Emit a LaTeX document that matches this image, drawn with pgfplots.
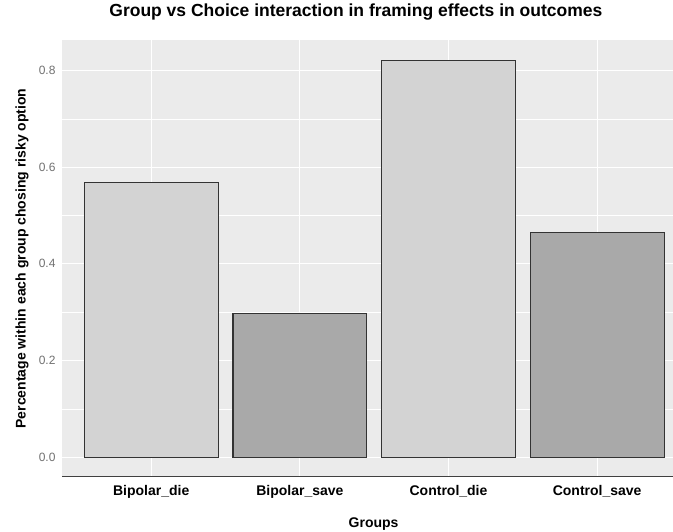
\documentclass[border=0pt]{standalone}
\usepackage{pgfplots}
\pgfplotsset{compat=1.18}
\usepackage{fontspec}
\setmainfont{Liberation Sans}
\definecolor{panel}{HTML}{EBEBEB}
\definecolor{dieclr}{HTML}{D3D3D3}
\definecolor{saveclr}{HTML}{A9A9A9}
\definecolor{ticklab}{HTML}{707070}
\begin{document}
\begin{tikzpicture}
\begin{axis}[
  width=611pt, height=437pt, scale only axis,
  xmin=-0.6, xmax=3.51,
  ymin=-0.041, ymax=0.863,
  axis background/.style={fill=panel},
  axis line style={draw=none},
  major tick length=0pt, minor tick length=0pt,
  xtick={0,1,2,3},
  xticklabels={Bipolar\_die,Bipolar\_save,Control\_die,Control\_save},
  xticklabel style={font=\fontsize{14}{16}\selectfont\bfseries, anchor=base, yshift=-19pt},
  ytick={0,0.2,0.4,0.6,0.8},
  minor ytick={0.1,0.3,0.5,0.7},
  yticklabels={0.0,0.2,0.4,0.6,0.8},
  yticklabel style={font=\fontsize{12}{14}\selectfont, text=ticklab, xshift=-3pt},
  grid=both,
  major grid style={white, line width=1.2pt},
  minor grid style={white, line width=0.5pt},
  xlabel={Groups},
  xlabel style={font=\fontsize{14}{16}\selectfont\bfseries, at={(rel axis cs:0.51,0)}, anchor=base, yshift=-51pt},
  ylabel={Percentage within each group chosing risky option},
  ylabel style={font=\fontsize{14}{16}\selectfont\bfseries, at={(rel axis cs:-0.0655,0.5)}, anchor=center},
  title={Group vs Choice interaction in framing effects in outcomes},
  title style={font=\fontsize{17.5}{19}\selectfont\bfseries, at={(rel axis cs:0.481,1)}, anchor=base, yshift=17pt},
  ybar, bar width=0.9, bar shift=0pt,
]
\addplot[fill=dieclr, draw=black!80, line width=1.1pt] coordinates {(0,0.568) (2,0.821)};
\addplot[fill=saveclr, draw=black!80, line width=1.1pt] coordinates {(1,0.297) (3,0.465)};
\draw[black!75, line width=1.3pt] (rel axis cs:0,0) -- (rel axis cs:1,0);
\coordinate (SW) at (rel axis cs:0,0);
\end{axis}
\pgfresetboundingbox
\useasboundingbox (SW) ++(-62pt,-55pt) rectangle ++(673pt,532pt);
\end{tikzpicture}
\end{document}
